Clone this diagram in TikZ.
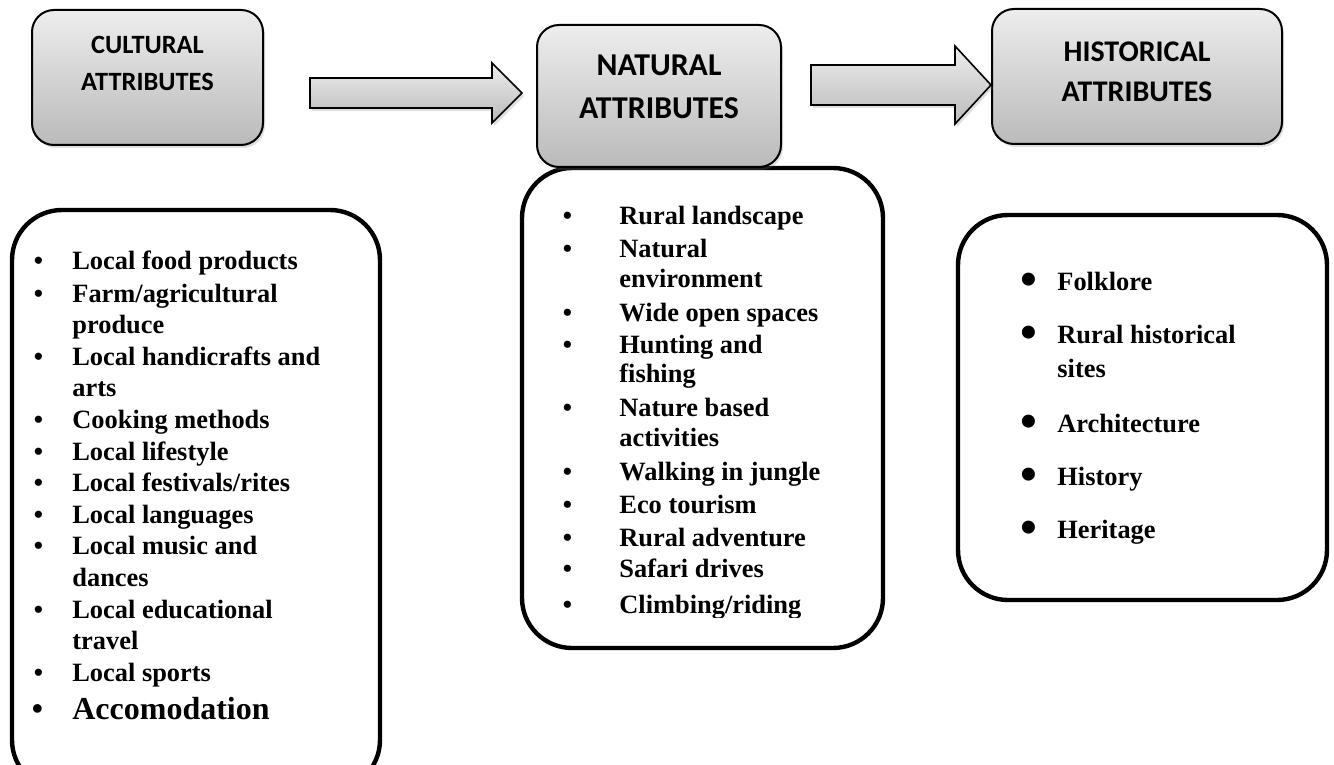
\documentclass[tikz,border=0pt]{standalone}
\usepackage{fontspec}
\setmainfont{Liberation Serif}
\newfontfamily\carlito{Carlito}
\usetikzlibrary{shadows}

% bullets for the three lists
\newcommand{\cb}{\llap{\textbullet\hspace{14.7pt}}}
\newcommand{\nb}{\llap{\textbullet\hspace{23.7pt}}}
\newcommand{\hb}{\llap{\raisebox{-2.7pt}{\fontsize{24pt}{24pt}\selectfont\textbullet}\hspace{10.3pt}}}

\tikzset{
  headbox/.style={draw, line width=1pt, rounded corners=11pt, top color=black!7, bottom color=black!27,
    drop shadow={opacity=0.25, shadow xshift=1pt, shadow yshift=-1.5pt}},
  headtext/.style={align=center, inner sep=0pt},
  blockarrow/.style={draw, line width=0.8pt, top color=black!7, bottom color=black!27,
    drop shadow={opacity=0.25, shadow xshift=1pt, shadow yshift=-1.5pt}},
  listbox/.style={draw, line width=2.2pt, rounded corners=25pt},
  listline/.style={anchor=base west, inner sep=0pt, font=\bfseries\fontsize{13.2pt}{15.8pt}\selectfont}
}

\begin{document}
\begin{tikzpicture}[x=0.5pt,y=-0.5pt]
\useasboundingbox (0,0) rectangle (1334,765);

% list boxes
\draw[listbox] (12,210) rectangle (380,790);
\draw[listbox] (522,168) rectangle (883,648);
\draw[listbox] (958,215) rectangle (1327,600);

% headers
\node[headbox, minimum width=115.5pt, minimum height=67.5pt,
  label={[headtext, font=\carlito\bfseries\fontsize{13.2pt}{18.5pt}\selectfont, yshift=7pt]center:{CULTURAL\\ATTRIBUTES}}]
  (cultural) at (147.5,77.5) {};
\node[headbox, minimum width=122pt, minimum height=71pt,
  label={[headtext, font=\carlito\bfseries\fontsize{15.9pt}{21.5pt}\selectfont, yshift=4.75pt]center:{NATURAL\\ATTRIBUTES}}]
  (natural) at (659,96) {};
\node[headbox, minimum width=145pt, minimum height=67.5pt,
  label={[headtext, font=\carlito\bfseries\fontsize{15pt}{20pt}\selectfont, yshift=2.25pt]center:{HISTORICAL\\ATTRIBUTES}}]
  (historical) at (1137,76.5) {};

% block arrows
\draw[blockarrow] (310,78) -- (492,78) -- (492,63) -- (522,93) -- (492,123) -- (492,108) -- (310,108) -- cycle;
\draw[blockarrow] (811,65) -- (955,65) -- (955,46) -- (991,85) -- (955,124) -- (955,105) -- (811,105) -- cycle;

% cultural list
\foreach \y/\t [count=\i] in {270/{\cb Local food products}, 302/{\cb Farm/agricultural}, 333/produce,
    365/{\cb Local handicrafts and}, 396/arts, 428/{\cb Cooking methods}, 460/{\cb Local lifestyle},
    491/{\cb Local festivals/rites}, 523/{\cb Local languages}, 554/{\cb Local music and}, 586/dances,
    618/{\cb Local educational}, 649/travel, 681/{\cb Local sports}}
  \node[listline] (cul\i) at (72,\y) {\t};
\node[listline, font=\bfseries\fontsize{16pt}{16pt}\selectfont] (cul15) at (72,719) {\cb Accomodation};

% natural list
\foreach \y/\t [count=\i] in {225/{\nb Rural landscape}, 257/{\nb Natural}, 287/environment,
    321/{\nb Wide open spaces}, 353/{\nb Hunting and}, 382/fishing, 416/{\nb Nature based},
    446/activities, 480/{\nb Walking in jungle}, 513/{\nb Eco tourism}, 546/{\nb Rural adventure},
    577/{\nb Safari drives}}
  \node[listline] (nat\i) at (619,\y) {\t};
\begin{scope}
\clip (522,590) rectangle (883,617);
\node[listline] (nat13) at (619,613) {\nb Climbing/riding};
\end{scope}

% historical list
\foreach \y/\t [count=\i] in {290/{\hb Folklore}, 343/{\hb Rural historical}, 377/sites,
    432/{\hb Architecture}, 485/{\hb History}, 538/{\hb Heritage}}
  \node[listline] (his\i) at (1057,\y) {\t};
\end{tikzpicture}
\end{document}
